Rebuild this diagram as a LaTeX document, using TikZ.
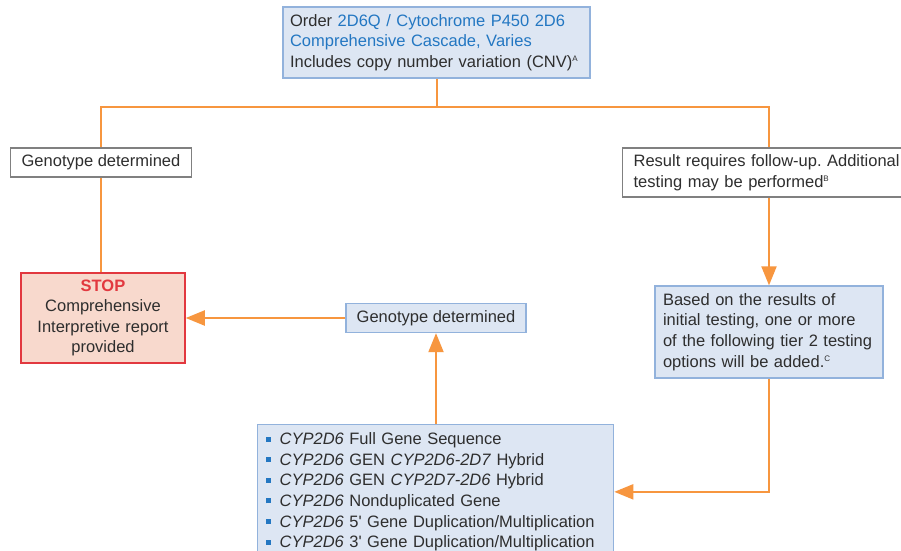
\documentclass[tikz,border=0pt]{standalone}
\usepackage{fontspec}
\setmainfont{Liberation Sans}
\usetikzlibrary{arrows.meta}
\definecolor{bfill}{HTML}{DDE6F3}
\definecolor{bdraw}{HTML}{92B2DC}
\definecolor{orng}{HTML}{F7963F}
\definecolor{txt}{HTML}{2E2E2E}
\definecolor{lnk}{HTML}{2377C2}
\definecolor{sfill}{HTML}{F8D9CD}
\definecolor{sdraw}{HTML}{E2383F}
\definecolor{gdraw}{HTML}{808080}
\frenchspacing
\newcommand{\bulsq}{\textcolor{lnk}{\raisebox{3pt}{\rule{5pt}{5pt}}}\hspace{9pt}}
\newcommand{\supnote}[1]{\raisebox{6pt}{\fontsize{8}{8}\selectfont #1}}
\begin{document}
\begin{tikzpicture}[x=1pt,y=-1pt,
  font=\fontsize{16.5}{20.6}\selectfont,
  bluebox/.style={draw=bdraw, fill=bfill, line width=1.3pt, text=txt},
  graybox/.style={draw=gdraw, fill=white, line width=1.3pt, text=txt},
  stopbox/.style={draw=sdraw, fill=sfill, line width=1.5pt, text=txt},
  ln/.style={draw=orng, line width=2pt},
  arr/.style={draw=orng, line width=2pt, -{Triangle[width=15pt,length=19pt]}}]
\useasboundingbox (0,0) rectangle (901,550);
\fill[white] (0,0) rectangle (901,550);
\clip (0,0) rectangle (901,550);

\node[bluebox, minimum height=71pt, text width=293pt, inner xsep=7pt, inner ysep=0pt, align=left] (top) at (436.5,42.5)
  {Order \textcolor{lnk}{2D6Q / Cytochrome P450 2D6}\\\textcolor{lnk}{Comprehensive Cascade, Varies}\\Includes copy number variation (CNV)\supnote{A}};

\node[graybox, minimum height=29pt, minimum width=181pt, inner sep=0pt] (gl) at (101,162.5) {Genotype determined};

\node[stopbox, minimum height=90pt, text width=150pt, inner xsep=7pt, inner ysep=0pt, align=center] (stop) at (103,318)
  {\textcolor{sdraw}{\textbf{STOP}}\\Comprehensive\\Interpretive report\\provided};

\node[bluebox, minimum height=29pt, minimum width=180pt, inner sep=0pt] (mid) at (436,318) {Genotype determined};

\node[graybox, anchor=west, minimum height=49pt, text width=290pt, inner xsep=11pt, inner ysep=0pt, align=left] (res) at (622,172.5)
  {Result requires follow-up. Additional\\testing may be performed\supnote{B}};

\node[bluebox, minimum height=92pt, text width=212pt, inner xsep=8pt, inner ysep=0pt, align=left] (based) at (769,332)
  {Based on the results of\\initial testing, one or more\\of the following tier 2 testing\\options will be added.\supnote{C}};

\node[bluebox, anchor=north west, text width=340pt, inner xsep=8pt, inner ysep=8pt, align=left] (bul) at (257,424)
  {\bulsq\textit{CYP2D6} Full Gene Sequence\\
   \bulsq\textit{CYP2D6} GEN \textit{CYP2D6-2D7} Hybrid\\
   \bulsq\textit{CYP2D6} GEN \textit{CYP2D7-2D6} Hybrid\\
   \bulsq\textit{CYP2D6} Nonduplicated Gene\\
   \bulsq\textit{CYP2D6} 5\textquotesingle{} Gene Duplication/Multiplication\\
   \bulsq\textit{CYP2D6} 3\textquotesingle{} Gene Duplication/Multiplication};

\coordinate (bus) at (436.5,107);
\draw[ln] (top.south) -- (bus);
\draw[ln] (gl.north) |- (bus);
\draw[ln] (based.north |- res.north) |- (bus);
\draw[ln] (gl.south) -- (gl.south |- stop.north);
\draw[arr] (based.north |- res.south) -- (based.north);
\draw[arr] (based.south) |- (bul.east);
\draw[arr] (mid.south |- bul.north) -- (mid.south);
\draw[arr] (mid.west) -- (stop.east);
\end{tikzpicture}
\end{document}
